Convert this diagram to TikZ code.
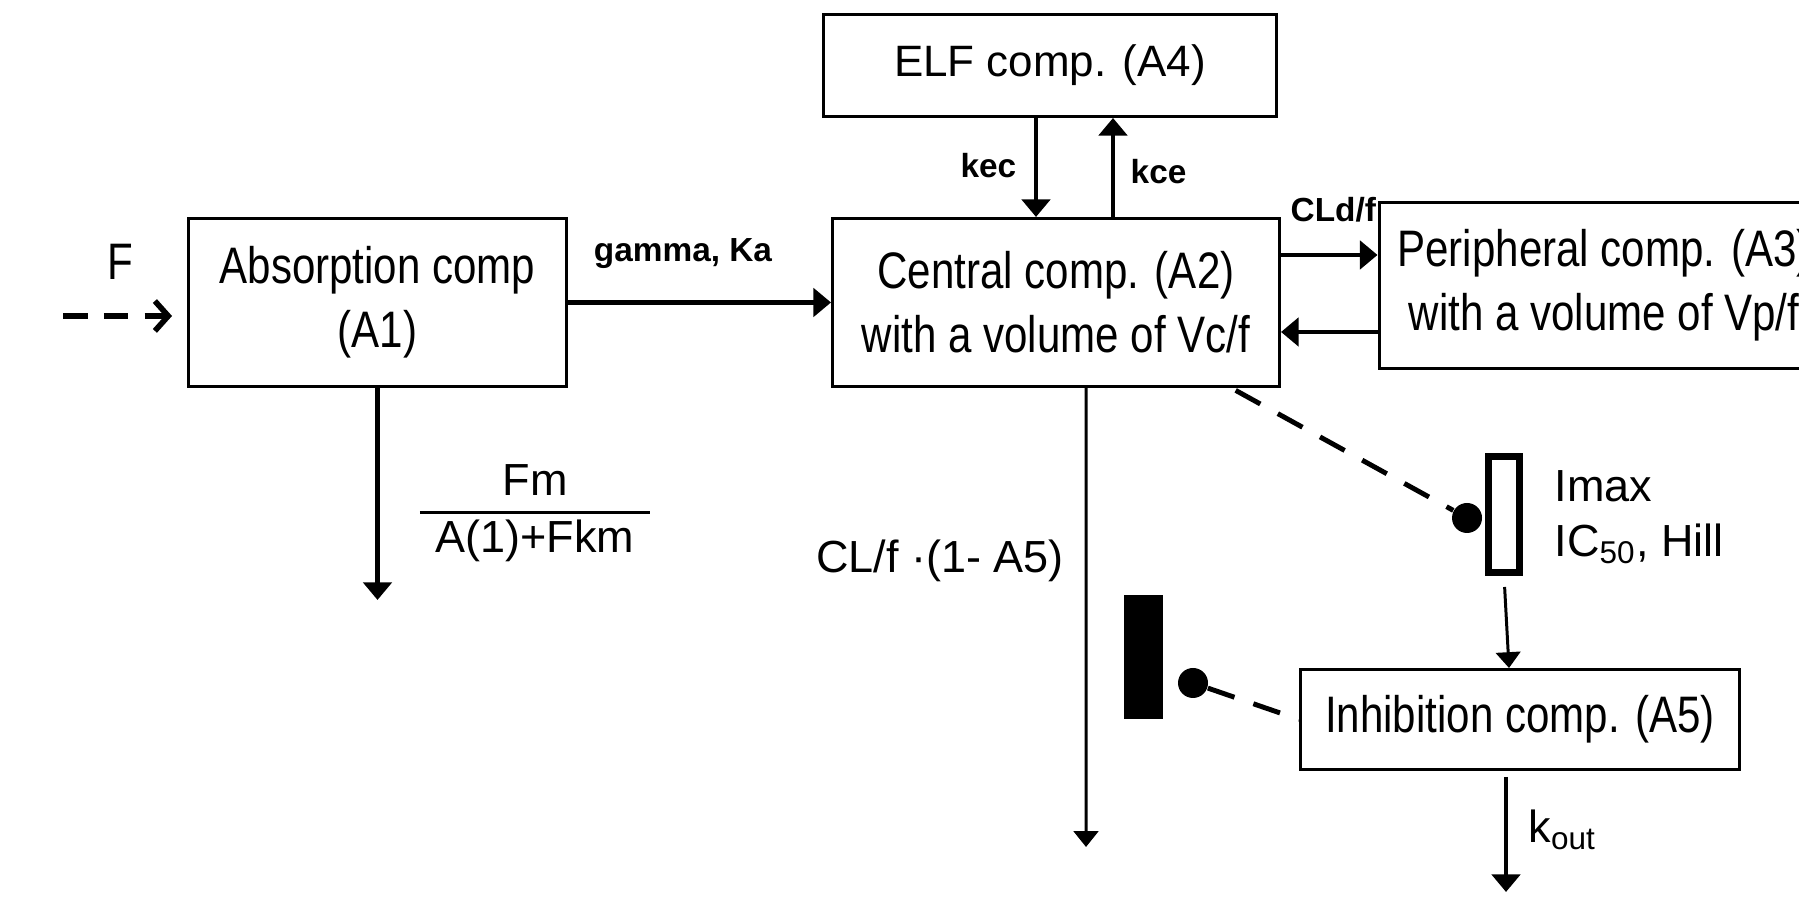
\documentclass[tikz,border=0pt]{standalone}
\usepackage{fontspec}
\setmainfont{Liberation Sans}
\newfontfamily\narrowsans{Liberation Sans}[FakeStretch=0.82]
\usetikzlibrary{arrows.meta}

\tikzset{
	comp/.style={shape=rectangle, draw, line width=0.85pt, inner sep=0pt, align=center, font=\narrowsans\fontsize{14.6}{18.2}\selectfont},
	flow/.style={line width=1.3pt, -{Triangle[width=8pt, length=5pt]}},
	thinflow/.style={line width=0.85pt, -{Triangle[width=7pt, length=4.5pt]}},
	rate/.style={font=\bfseries\fontsize{9.5}{11}\selectfont, inner sep=0pt},
	param/.style={font=\fontsize{12.8}{15.6}\selectfont, inner sep=0pt},
	effect/.style={line width=1.4pt, dash pattern=on 8pt off 5.7pt},
	knob/.style={shape=circle, fill, inner sep=0pt, minimum size=0.3cm},
}

\begin{document}
\begin{tikzpicture}
	\useasboundingbox (0, 0) rectangle (17.99, 8.99);
	\clip (0, 0) rectangle (17.99, 8.99);
	% Compartments:
	\node[comp, minimum width=3.78cm, minimum height=1.68cm] (absorb) at (3.775, 5.965) {Absorption comp\\(A1)};
	\node[comp, minimum width=4.47cm, minimum height=1.68cm] (central) at (10.56, 5.965) {Central comp. (A2)\\with a volume of Vc/f};
	\node[comp, font=\fontsize{12.5}{15}\selectfont, minimum width=4.53cm, minimum height=1.02cm] (elf) at (10.50, 8.335) {ELF comp. (A4)};
	\node[comp, minimum width=4.50cm, minimum height=1.66cm] (periph) at (16.04, 6.135) {Peripheral comp. (A3)\\with a volume of Vp/f};
	\node[comp, minimum width=4.39cm, minimum height=1.00cm] (inhib) at (15.20, 1.795) {Inhibition comp. (A5)};
	% Labels:
	\node[comp, draw=none] (dose) at (1.20, 6.37) {F};
	\node[rate, anchor=base] (ka) at (6.83, 6.37) {gamma, Ka};
	\node[rate, anchor=base east] (kec) at (10.17, 7.21) {kec};
	\node[rate, anchor=base west] (kce) at (11.30, 7.15) {kce};
	\node[rate, anchor=base west] (cld) at (12.90, 6.77) {CLd/f};
	\node[param] (fmkm) at (5.35, 3.86) {\setlength{\arrayrulewidth}{0.85pt}\begin{tabular}{@{\hspace{4.5pt}}c@{\hspace{4.5pt}}}Fm\\\hline A(1)+Fkm\end{tabular}};
	\node[param, anchor=base] (clf) at (9.40, 3.26) {CL/f ·(1- A5)};
	\node[param, anchor=north west, align=left] (imax) at (15.54, 4.29) {Imax\\IC\textsubscript{50}, Hill};
	\node[param, anchor=base west] (kout) at (15.28, 0.56) {k\textsubscript{out}};
	% Inhibition symbols:
	\node[draw, line width=2pt, minimum width=0.31cm, minimum height=1.16cm, inner sep=0pt] (imaxbar) at (15.04, 3.845) {};
	\node[knob] (dot1) at (14.67, 3.81) {};
	\node[fill, minimum width=0.39cm, minimum height=1.24cm, inner sep=0pt] (blockbar) at (11.435, 2.42) {};
	\node[knob] (dot2) at (11.93, 2.16) {};
	% Free ends:
	\coordinate (fin) at (0.63, 5.83);
	\coordinate (a1out) at (3.775, 2.99);
	\coordinate (a2out) at (10.86, 0.52);
	\coordinate (a5out) at (15.06, 0.07);
	% Connectors:
	\draw[line width=1.6pt, dash pattern=on 7pt off 4.6pt, -{Straight Barb[width=8.5pt, length=3.8pt]}, shorten >=0.15cm] (fin) -- (fin -| absorb.west);
	\draw[flow] (absorb.east) -- (central.west);
	\draw[flow] ([xshift=-2mm]central.north |- elf.south) -- ([xshift=-2mm]central.north);
	\draw[flow] ([xshift=5.7mm]central.north) -- ([xshift=5.7mm]central.north |- elf.south);
	\draw[flow] ([yshift=4.75mm]central.east) -- ([yshift=4.75mm]central.east -| periph.west);
	\draw[flow] ([yshift=-2.95mm]central.east -| periph.west) -- ([yshift=-2.95mm]central.east);
	\draw[flow] (absorb.south) -- (a1out);
	\draw[thinflow] ([xshift=3mm]central.south) -- (a2out);
	\draw[effect, shorten <=0.05cm] (central.-26) -- (dot1);
	\draw[thinflow, shorten <=0.11cm] (imaxbar.south) -- ([xshift=-1.1mm]inhib.north);
	\draw[effect] (dot2) -- (inhib.west);
	\draw[flow, shorten <=0.06cm] ([xshift=-1.4mm]inhib.south) -- (a5out);
\end{tikzpicture}
\end{document}
